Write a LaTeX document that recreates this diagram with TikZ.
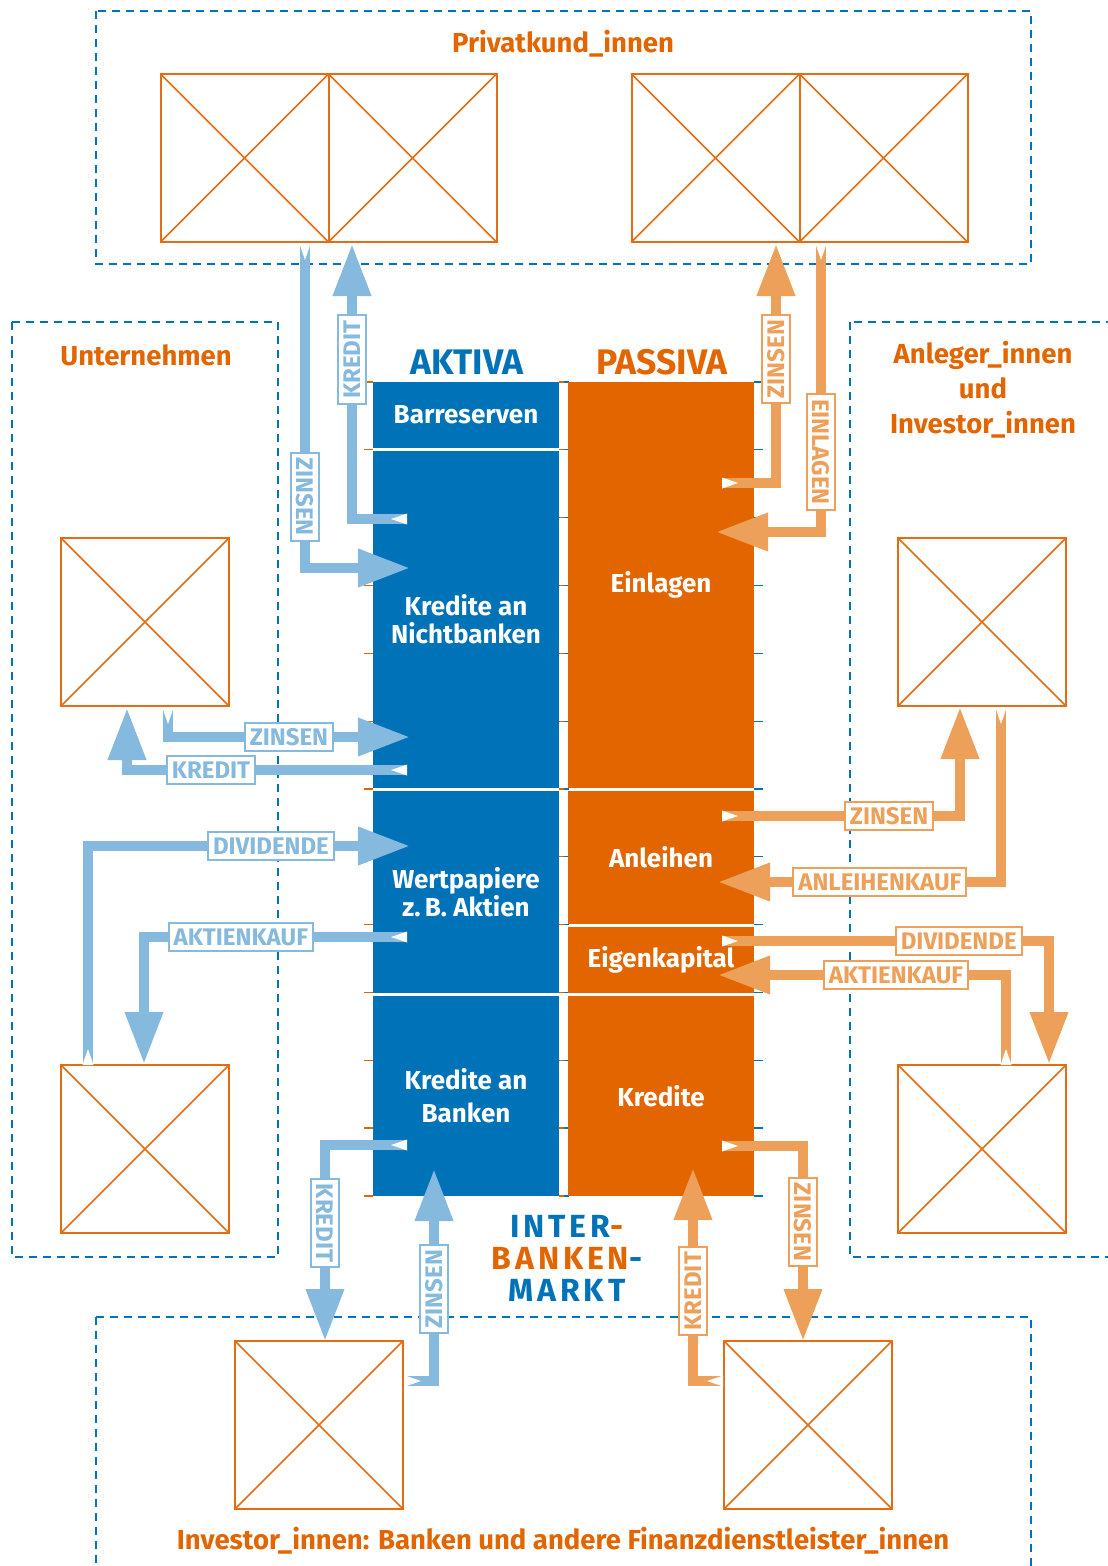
\documentclass[tikz,border=0pt]{standalone}
\usepackage{fontspec}
\setmainfont{Fira Sans}
\usepackage{tikz}
\usetikzlibrary{arrows.meta,positioning,calc}
\definecolor{aktivblue}{RGB}{0,114,184}
\definecolor{passivorange}{RGB}{227,101,0}
\definecolor{flowblue}{RGB}{133,185,221}
\definecolor{floworange}{RGB}{237,160,90}
\definecolor{frameorange}{RGB}{229,108,16}
\newcommand{\fsz}[2]{\fontsize{#1}{#2}\selectfont\bfseries}

\begin{document}
\begin{tikzpicture}[
    x=1pt, y=-1pt,
    group/.style   = {draw=aktivblue, line width=2.4pt, dash pattern=on 8pt off 6pt},
    grouptitle/.style = {text=passivorange, font=\fsz{27.5}{35}, align=center},
    photo/.style   = {draw=frameorange, line width=2pt, minimum size=168pt, inner sep=0pt, outer sep=0pt,
                      path picture={\draw[frameorange, line width=1.6pt]
                        (path picture bounding box.north west) -- (path picture bounding box.south east)
                        (path picture bounding box.south west) -- (path picture bounding box.north east);}},
    aktiv/.style   = {fill=aktivblue, text=white, minimum width=186pt, inner sep=0pt, outer sep=0pt,
                      align=center, font=\fsz{26}{28}},
    passiv/.style  = {aktiv, fill=passivorange},
    colhead/.style = {font=\fsz{35.5}{35}},
    barr/.style    = {line width=10pt, draw=flowblue, -{Triangle[length=52pt, width=36pt]}},
    oarr/.style    = {barr, draw=floworange},
    blabel/.style  = {draw=flowblue, line width=2pt, fill=white, text=flowblue, font=\fsz{24}{24},
                      minimum height=28pt, inner xsep=5pt, inner ysep=0pt},
    olabel/.style  = {blabel, draw=floworange, text=floworange},
    notch/.pic     = {\fill[white] (0,-5.5) -- (-16,0) -- (0,5.5) -- cycle;}
  ]
  \useasboundingbox (0,0) rectangle (1108,1566);

  % groups of customers
  \draw[group] (96,11) rectangle (1031,264);
  \draw[group] (12,322) rectangle (278,1257);
  \draw[group] (850,322) rectangle (1125,1257);
  \draw[group] (96,1317) rectangle (1031,1590);

  \node[grouptitle] (tpk) at (563,44)   {Privatkund\_innen};
  \node[grouptitle] (tun) at (146,355)  {Unternehmen};
  \node[grouptitle] (tan) at (983,390)  {Anleger\_innen\\und\\Investor\_innen};
  \node[grouptitle] (tfi) at (563,1541) {Investor\_innen: Banken und andere Finanzdienstleister\_innen};

  % picture placeholders
  \node[photo] (pk1) at (244.5,158) {};
  \node[photo, right=0pt of pk1] (pk2) {};
  \node[photo] (pk3) at (715.5,158) {};
  \node[photo, right=0pt of pk3] (pk4) {};
  \node[photo] (un1) at (145,622)  {};
  \node[photo] (un2) at (145,1149) {};
  \node[photo] (an1) at (982,622)  {};
  \node[photo] (an2) at (982,1149) {};
  \node[photo] (fi1) at (319,1425) {};
  \node[photo] (fi2) at (808,1425) {};

  % ruler ticks
  \foreach \i in {0,...,12} {
    \draw[passivorange, line width=1.3pt] (364,382+67.83*\i) -- (373,382+67.83*\i);
    \draw[passivorange, line width=1.3pt] (559,382+67.83*\i) -- (564,382+67.83*\i);
    \draw[aktivblue, line width=1.3pt] (564,382+67.83*\i) -- (569,382+67.83*\i);
    \draw[aktivblue, line width=1.3pt] (754,382+67.83*\i) -- (763,382+67.83*\i);
  }

  % balance sheet
  \node[colhead, text=aktivblue]    (akt) at (467,362) {AKTIVA};
  \node[colhead, text=passivorange] (pas) at (662,362) {PASSIVA};

  \node[aktiv, minimum height=66pt] (bar) at (466,415) {Barreserven};
  \node[aktiv, minimum height=337pt, below=3pt of bar] (kn) {Kredite an\\Nichtbanken};
  \node[aktiv, minimum height=202pt, below=3pt of kn]  (wp) {Wertpapiere\\z.\,B. Aktien};
  \node[aktiv, minimum height=200pt, below=3pt of wp]  (kb) {Kredite an\\[5pt]Banken};

  \node[passiv, minimum height=406pt, anchor=north west] (ein) at ([xshift=9pt]bar.north east) {Einlagen};
  \node[passiv, minimum height=133pt, below=3pt of ein] (anl) {Anleihen};
  \node[passiv, minimum height=66pt,  below=3pt of anl] (eig) {Eigenkapital};
  \node[passiv, minimum height=200pt, below=3pt of eig] (kre) {Kredite};

  \node[font=\fsz{32}{32}\addfontfeatures{LetterSpace=12}, align=center] (ibm) at (567,1258)
    {\textcolor{aktivblue}{INTER}\textcolor{passivorange}{-}\\
     \textcolor{passivorange}{BANKEN}\textcolor{aktivblue}{-}\\
     \textcolor{aktivblue}{MARKT}};

  % flows on the assets side
  \coordinate (a1t) at (305,244);  \coordinate (a1h) at (410,568);
  \coordinate (a2t) at (407,519);  \coordinate (a2h) at (352,244);
  \coordinate (a3t) at (168,708);  \coordinate (a3h) at (410,737);
  \coordinate (a4t) at (407,770);  \coordinate (a4h) at (127,708);
  \coordinate (a5t) at (88,1065);  \coordinate (a5h) at (410,846);
  \coordinate (a6t) at (407,937);  \coordinate (a6h) at (144,1064);
  \coordinate (a7t) at (407,1145); \coordinate (a7h) at (325,1341);
  \coordinate (a8t) at (405,1381); \coordinate (a8h) at (434,1169);

  \draw[barr] (a1t) |- node[blabel, pos=0.39, rotate=-90] {ZINSEN} (a1h);
  \draw[barr] (a2t) -| node[blabel, pos=0.79, rotate=90] {KREDIT} (a2h);
  \draw[barr] (a3t) |- node[blabel, pos=0.75] {ZINSEN} (a3h);
  \draw[barr] (a4t) -| node[blabel, pos=0.35] {KREDIT} (a4h);
  \draw[barr] (a5t) |- node[blabel, pos=0.784] {DIVIDENDE} (a5h);
  \draw[barr] (a6t) -| node[blabel, pos=0.316] {AKTIENKAUF} (a6h);
  \draw[barr] (a7t) -| node[blabel, pos=0.699, rotate=-90] {KREDIT} (a7h);
  \draw[barr] (a8t) -| node[blabel, pos=0.717, rotate=90] {ZINSEN} (a8h);

  % flows on the liabilities side
  \coordinate (b1t) at (722,483);  \coordinate (b1h) at (776,244);
  \coordinate (b2t) at (821,244);  \coordinate (b2h) at (716,532);
  \coordinate (b3t) at (722,816);  \coordinate (b3h) at (960,707);
  \coordinate (b4t) at (1001,708); \coordinate (b4h) at (718,882);
  \coordinate (b5t) at (722,941);  \coordinate (b5h) at (1049,1064);
  \coordinate (b6t) at (1006,1065);\coordinate (b6h) at (718,975);
  \coordinate (b7t) at (722,1146); \coordinate (b7h) at (803,1341);
  \coordinate (b8t) at (723,1381); \coordinate (b8h) at (693,1168);

  \draw[oarr] (b1t) -| node[olabel, pos=0.759, rotate=90] {ZINSEN} (b1h);
  \draw[oarr] (b2t) |- node[olabel, pos=0.361, rotate=-90] {EINLAGEN} (b2h);
  \draw[oarr] (b3t) -| node[olabel, pos=0.351] {ZINSEN} (b3h);
  \draw[oarr] (b4t) |- node[olabel, pos=0.714] {ANLEIHENKAUF} (b4h);
  \draw[oarr] (b5t) -| node[olabel, pos=0.362] {DIVIDENDE} (b5h);
  \draw[oarr] (b6t) |- node[olabel, pos=0.691] {AKTIENKAUF} (b6h);
  \draw[oarr] (b7t) -| node[olabel, pos=0.695, rotate=-90] {ZINSEN} (b7h);
  \draw[oarr] (b8t) -| node[olabel, pos=0.711, rotate=90] {KREDIT} (b8h);

  % tail notches
  \foreach \t/\r in {a1t/90, a2t/0, a3t/90, a4t/0, a5t/-90, a6t/0, a7t/0, a8t/180,
                     b1t/180, b2t/90, b3t/180, b4t/90, b5t/180, b6t/-90, b7t/180, b8t/0}
    \pic[rotate=\r] at (\t) {notch};
\end{tikzpicture}
\end{document}
